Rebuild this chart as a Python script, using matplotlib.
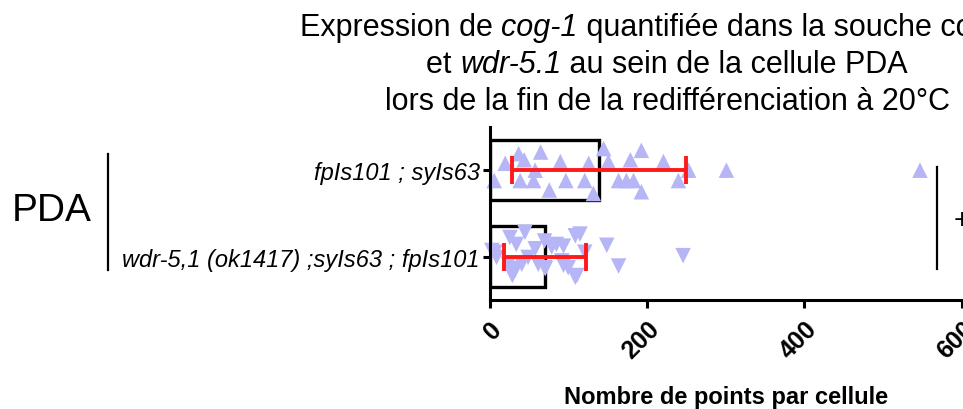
import matplotlib
matplotlib.use("Agg")
import matplotlib.pyplot as plt
from matplotlib.lines import Line2D
from matplotlib.font_manager import FontProperties
from matplotlib.transforms import ScaledTranslation
import numpy as np

plt.rcParams['font.family'] = ['Liberation Sans', 'DejaVu Sans']

# ---- data ----
categories = ["fpIs101 ; syIs63", "wdr-5,1 (ok1417) ;syIs63 ; fpIs101"]
means = [139, 71]
sds = [111, 52]

ctrl_values = [6, 37, 44, 20, 39, 58, 56, 65, 76, 90, 97, 121, 126, 132, 145,
               151, 164, 193, 179, 174, 183, 193, 221, 240, 253, 301, 547]
ctrl_jitter = [-0.12, 0.19, 0.12, 0.08, -0.12, 0.0, -0.12, 0.21, -0.23, 0.10,
               -0.12, -0.12, 0.08, -0.27, 0.25, 0.10, -0.12, 0.23, 0.12, -0.12,
               -0.12, -0.25, 0.10, -0.12, 0.0, 0.0, 0.0]

mut_values = [3, 26, 34, 45, 9, 24, 32, 41, 49, 58, 62, 70, 70, 79, 85, 94,
              92, 100, 109, 109, 115, 121, 149, 164, 246, 7, 28, 29, 71, 111, 94]
mut_jitter = [0.07, 0.22, 0.14, 0.28, -0.01, -0.09, -0.17, -0.09, -0.01, 0.09,
              -0.09, 0.18, -0.13, 0.11, 0.14, 0.12, -0.05, -0.13, -0.24, 0.24,
              0.26, 0.05, 0.13, -0.11, 0.01, 0.05, -0.14, -0.22, -0.14, -0.22, -0.10]

xticks = [0, 200, 400, 600]
# title segments: (text, italic?)
title_line1 = [("Expression de ", False), ("cog-1", True),
               (" quantifiée dans la souche contrôle et dans le mutant", False)]
title_line2 = [("et ", False), ("wdr-5.1", True), (" au sein de la cellule PDA", False)]
title_line3 = [("lors de la fin de la redifférenciation à 20°C", False)]
xlabel = "Nombre de points par cellule"
group_label = "PDA"
signif = "+"

# ---- figure ----
W, H = 963, 410
fig = plt.figure(figsize=(W / 100, H / 100), dpi=100)

def fx(px):
    return px / W

def fy(py):
    return 1 - py / H

ax_l, ax_r, ax_t, ax_b = 489.5, 961.7, 128, 300.7
ax = fig.add_axes([fx(ax_l), fy(ax_b), fx(ax_r) - fx(ax_l), (ax_b - ax_t) / H])

ypos = [1, 0]
point_color = '#b6b6f6'

ax.barh(ypos, means, height=0.7, color='white', edgecolor='black', linewidth=2.4, zorder=1)

ax.scatter(ctrl_values, np.array(ctrl_jitter) + ypos[0], marker='^', s=125,
           color=point_color, edgecolors='none', zorder=2, clip_on=False)
ax.scatter(mut_values, np.array(mut_jitter) + ypos[1], marker='v', s=125,
           color=point_color, edgecolors='none', zorder=2, clip_on=False)

ax.errorbar(means, ypos, xerr=sds, fmt='none', ecolor='#ff1a1a', elinewidth=2.8,
            capsize=10, capthick=2.8, zorder=3)

ax.set_xlim(0, 600)
ax.set_ylim(-0.5, 1.5)
ax.set_yticks(ypos)
ax.set_yticklabels(categories, fontstyle='italic', fontsize=17)
ax.set_xticks(xticks)
ax.set_xticklabels([str(t) for t in xticks], rotation=45, ha='right', va='top',
                   rotation_mode='anchor', fontsize=18, fontweight='bold')
shift = ScaledTranslation(-6 / 100, -2 / 100, fig.dpi_scale_trans)
for lab in ax.get_xticklabels():
    lab.set_transform(lab.get_transform() + shift)
for s in ['top', 'right']:
    ax.spines[s].set_visible(False)
for s in ['left', 'bottom']:
    ax.spines[s].set_linewidth(2.2)
ax.tick_params(axis='y', length=5, width=2.2, pad=2)
ax.tick_params(axis='x', length=6, width=2.2, pad=6)

# x label
fig.text(fx((ax_l + ax_r) / 2), fy(398), xlabel, ha='center', va='center',
         fontsize=17, fontweight='bold')

# title, built from upright/italic pieces
renderer = fig.canvas.get_renderer()
p_norm = FontProperties(family='Liberation Sans', size=22)
p_ital = FontProperties(family='Liberation Sans', style='italic', size=22)

def seg_width(s, prop):
    w1, _, _ = renderer.get_text_width_height_descent("|" + s + "|", prop, ismath=False)
    w0, _, _ = renderer.get_text_width_height_descent("||", prop, ismath=False)
    return w1 - w0

def draw_line(segs, x_px, base_px, align):
    props = [p_ital if it else p_norm for _, it in segs]
    widths = [seg_width(s, p) for (s, _), p in zip(segs, props)]
    total = sum(widths)
    x = x_px if align == 'left' else x_px - total / 2
    for (s, _), p, w in zip(segs, props, widths):
        fig.text(fx(x), fy(base_px), s, fontproperties=p, ha='left', va='baseline')
        x += w

draw_line(title_line1, 300, 36, 'left')
draw_line(title_line2, 667, 73, 'center')
draw_line(title_line3, 667, 110, 'center')

# group label
fig.text(fx(12), fy(211), group_label, ha='left', va='center', fontsize=28)
fig.add_artist(Line2D([fx(108), fx(108)], [fy(155), fy(271)], color='black', lw=1.6))

# significance bracket
fig.add_artist(Line2D([fx(937), fx(937)], [fy(168), fy(270)], color='black', lw=1.6))
fig.text(fx(954), fy(221), signif, ha='left', va='center', fontsize=20)

fig.savefig("out.png", dpi=100)
